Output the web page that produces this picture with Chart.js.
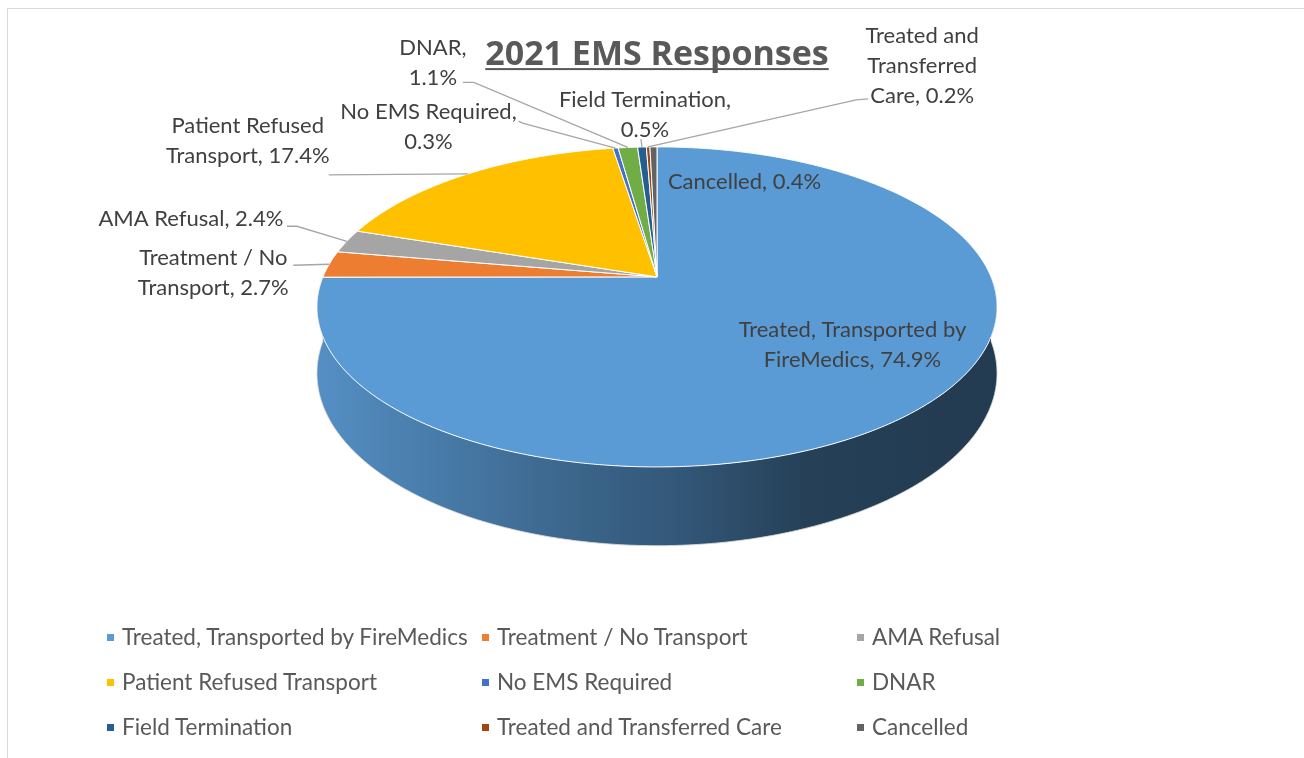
<!DOCTYPE html>
<html>
<head>
<meta charset="utf-8">
<script src="https://cdn.jsdelivr.net/npm/chart.js@4.4.1/dist/chart.umd.min.js"></script>
<style>
  html, body { margin: 0; padding: 0; background: #ffffff; }
  #wrap { position: relative; width: 1304px; height: 758px; overflow: hidden; }
  #frame { position: absolute; left: 7px; top: 8px; width: 1400px; height: 900px; border: 1px solid #D9D9D9; box-sizing: border-box; }
  #chart { position: absolute; left: 0; top: 0; }
  #legend { position: absolute; left: 0; top: 0; width: 1304px; height: 758px; pointer-events: none; }
  .li { position: absolute; font-family: Lato, "Noto Sans", sans-serif; font-size: 22.5px; color: #595959; white-space: nowrap; line-height: 24px; }
  .li i { position: absolute; left: -15px; top: 9px; width: 7px; height: 7px; }
</style>
</head>
<body>
<div id="wrap">
  <div id="frame"></div>
  <canvas id="chart" width="1304" height="758"></canvas>
  <div id="legend"></div>
</div>
<script>
// ---------------- data ----------------
const TITLE = "2021 EMS Responses";
const categories = [
  "Treated, Transported by FireMedics",
  "Treatment / No Transport",
  "AMA Refusal",
  "Patient Refused Transport",
  "No EMS Required",
  "DNAR",
  "Field Termination",
  "Treated and Transferred Care",
  "Cancelled"
];
const percentages = [74.9, 2.7, 2.4, 17.4, 0.3, 1.1, 0.5, 0.2, 0.4];
const sliceColors = ["#5B9BD5", "#ED7D31", "#A5A5A5", "#FFC000", "#4472C4", "#70AD47", "#255E91", "#9E480E", "#636363"];

// ---------------- label layout (offsets from each slice's rim anchor) ----------------
const labelLayout = [
  { dx: -77,  dy: -58, wrap: 260, leader: null },
  { dx: -116, dy: 9,   wrap: 175, leader: [[-36, 1]] },
  { dx: -156, dy: -22, wrap: 400, leader: [[-60, -15], [-50, -15]] },
  { dx: -220, dy: -33, wrap: 185, leader: [[-139, 1]] },
  { dx: -187, dy: -21, wrap: 200, leader: [[-97, -27], [-93, -25]] },
  { dx: -195, dy: -85, wrap: 80,  leader: [[-165, -65], [-154, -65]] },
  { dx: 3,    dy: -32, wrap: 200, leader: [[-1, -8]] },
  { dx: 274,  dy: -81, wrap: 135, leader: [[220, -48], [208, -47]] },
  { dx: 91,   dy: 35,  wrap: 400, leader: null }
];

const FONT = 'Lato, "Noto Sans", sans-serif';
const TITLE_FONT = '"Open Sans", Lato, sans-serif';
const LABEL_SIZE = 22;
const LINE_H = 30;

// 3D view: perspective tilt of the pie plane
const VIEW = { sx: 2.2267, sy: 1.0293, persp: 0.1875, depth: 0.4267 };
function project(cx, cy, r, ang, drop) {
  const u = Math.cos(ang), v = Math.sin(ang);
  const w = 1 - VIEW.persp * v;
  return [cx + VIEW.sx * r * u / w, cy + (VIEW.sy * r * v + drop * VIEW.depth * r) / w];
}
function shade(hex, f) {
  const n = parseInt(hex.slice(1), 16);
  const r = Math.round(((n >> 16) & 255) * f), g = Math.round(((n >> 8) & 255) * f), b = Math.round((n & 255) * f);
  return `rgb(${r},${g},${b})`;
}

// ---------------- custom 3D arc element ----------------
class Arc3D extends Chart.ArcElement {
  draw(ctx) {
    const { x, y, startAngle, endAngle, outerRadius } =
      this.getProps(['x', 'y', 'startAngle', 'endAngle', 'outerRadius']);
    const o = this.options;
    const R = outerRadius;
    const step = 0.005;
    ctx.save();
    ctx.lineJoin = 'round';
    // visible side wall (front half of the rim)
    const a0 = Math.max(startAngle, 0), a1 = Math.min(endAngle, Math.PI);
    if (a1 > a0) {
      const n = Math.max(2, Math.ceil((a1 - a0) / step));
      ctx.beginPath();
      for (let k = 0; k <= n; k++) {
        const p = project(x, y, R, a0 + (a1 - a0) * k / n, 0);
        k ? ctx.lineTo(p[0], p[1]) : ctx.moveTo(p[0], p[1]);
      }
      for (let k = n; k >= 0; k--) {
        const p = project(x, y, R, a0 + (a1 - a0) * k / n, 1);
        ctx.lineTo(p[0], p[1]);
      }
      ctx.closePath();
      const xl = x - VIEW.sx * R * 1.02, xr = x + VIEW.sx * R * 1.02;
      const g = ctx.createLinearGradient(xl, 0, xr, 0);
      const base = o.backgroundColor;
      g.addColorStop(0, shade(base, 0.92));
      g.addColorStop(0.35, shade(base, 0.67));
      g.addColorStop(0.55, shade(base, 0.55));
      g.addColorStop(0.72, shade(base, 0.41));
      g.addColorStop(1, shade(base, 0.38));
      ctx.fillStyle = g;
      ctx.fill();
      // soft light edge along bottom of wall
      ctx.beginPath();
      for (let k = 0; k <= n; k++) {
        const p = project(x, y, R, a0 + (a1 - a0) * k / n, 1);
        k ? ctx.lineTo(p[0], p[1]) : ctx.moveTo(p[0], p[1]);
      }
      ctx.strokeStyle = 'rgba(220,220,220,0.9)';
      ctx.lineWidth = 1;
      ctx.stroke();
    }
    // top face
    const n = Math.max(2, Math.ceil((endAngle - startAngle) / step));
    ctx.beginPath();
    ctx.moveTo(x, y);
    for (let k = 0; k <= n; k++) {
      const p = project(x, y, R, startAngle + (endAngle - startAngle) * k / n, 0);
      ctx.lineTo(p[0], p[1]);
    }
    ctx.closePath();
    ctx.fillStyle = o.backgroundColor;
    ctx.fill();
    ctx.strokeStyle = o.borderColor;
    ctx.lineWidth = o.borderWidth;
    ctx.stroke();
    ctx.restore();
  }
}
Arc3D.id = 'arc3d';

class Pie3DController extends Chart.PieController {}
Pie3DController.id = 'pie3d';
Pie3DController.defaults = { dataElementType: 'arc3d' };

Chart.register(Arc3D, Pie3DController);

// ---------------- label + underline plugin ----------------
function wrapText(ctx, text, maxW) {
  const words = text.split(' ');
  const lines = [];
  let cur = '';
  words.forEach(w => {
    const t = cur ? cur + ' ' + w : w;
    if (cur && ctx.measureText(t).width > maxW) { lines.push(cur); cur = w; }
    else cur = t;
  });
  if (cur) lines.push(cur);
  return lines;
}

const sliceLabels = {
  id: 'sliceLabels',
  afterDatasetsDraw(chart) {
    const ctx = chart.ctx;
    const meta = chart.getDatasetMeta(0);
    ctx.save();
    ctx.font = `${LABEL_SIZE}px ${FONT}`;
    ctx.textAlign = 'center';
    ctx.textBaseline = 'middle';
    meta.data.forEach((arc, i) => {
      const mid = (arc.startAngle + arc.endAngle) / 2;
      const [ax, ay] = project(arc.x, arc.y, arc.outerRadius, mid, 0);
      const lay = labelLayout[i];
      if (lay.leader) {
        ctx.beginPath();
        lay.leader.forEach((pt, k) => {
          k ? ctx.lineTo(ax + pt[0], ay + pt[1]) : ctx.moveTo(ax + pt[0], ay + pt[1]);
        });
        ctx.lineTo(ax, ay);
        ctx.strokeStyle = '#A6A6A6';
        ctx.lineWidth = 1.3;
        ctx.stroke();
      }
      const text = chart.data.labels[i] + ', ' + chart.data.datasets[0].data[i].toFixed(1) + '%';
      const lines = wrapText(ctx, text, lay.wrap);
      ctx.fillStyle = '#404040';
      lines.forEach((ln, k) => {
        ctx.fillText(ln, ax + lay.dx, ay + lay.dy + (k - (lines.length - 1) / 2) * LINE_H);
      });
    });
    ctx.restore();
  },
  afterDraw(chart) {
    const tb = chart.titleBlock;
    if (!tb || !tb.options.display) return;
    const ctx = chart.ctx;
    const f = tb.options.font;
    ctx.save();
    ctx.font = `${f.weight} ${f.size}px ${TITLE_FONT}`;
    ctx.textBaseline = 'middle';
    const w = ctx.measureText(TITLE).width;
    const m = ctx.measureText('2021');
    const midY = tb.top + tb.options.padding.top + (f.size * 1.2) / 2;
    const baseY = midY + m.actualBoundingBoxDescent;
    const cx = tb.left + tb.width / 2;
    ctx.fillStyle = '#595959';
    ctx.fillRect(cx - w / 2, baseY + 3, w, 2);
    ctx.restore();
  }
};

// ---------------- chart ----------------
const chart = new Chart(document.getElementById('chart'), {
  type: 'pie3d',
  data: {
    labels: categories,
    datasets: [{
      data: percentages,
      backgroundColor: sliceColors,
      borderColor: '#ffffff',
      borderWidth: 1,
      radius: 150
    }]
  },
  options: {
    responsive: false,
    animation: false,
    events: [],
    layout: { padding: { top: 35, bottom: 280, left: 300, right: 290 } },
    plugins: {
      legend: { display: false },
      tooltip: { enabled: false },
      title: {
        display: true,
        text: TITLE,
        color: '#595959',
        font: { family: TITLE_FONT, size: 34, weight: 'bold', lineHeight: 1.2 },
        padding: { top: 0, bottom: 0 }
      }
    }
  },
  plugins: [sliceLabels]
});

// ---------------- HTML legend (3 columns) ----------------
const legendEl = document.getElementById('legend');
const colX = [122, 497, 872];
const rowY = [625, 670, 715];
chart.data.labels.forEach((lab, i) => {
  const d = document.createElement('div');
  d.className = 'li';
  d.style.left = colX[i % 3] + 'px';
  d.style.top = rowY[Math.floor(i / 3)] + 'px';
  const sw = document.createElement('i');
  sw.style.background = chart.data.datasets[0].backgroundColor[i];
  d.appendChild(sw);
  d.appendChild(document.createTextNode(lab));
  legendEl.appendChild(d);
});
</script>
</body>
</html>
